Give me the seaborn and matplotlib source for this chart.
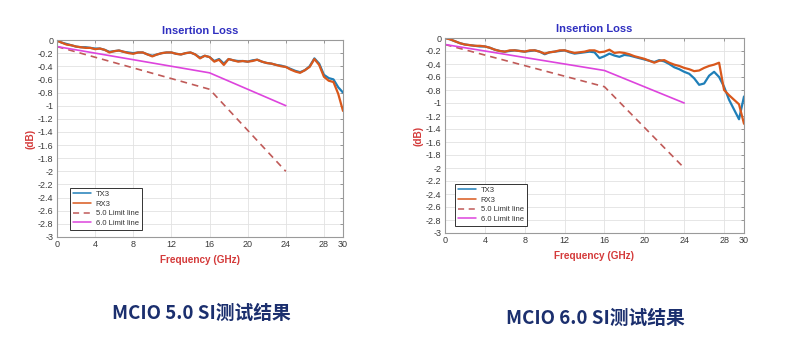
import matplotlib
matplotlib.use("Agg")
import matplotlib.pyplot as plt
import seaborn as sns
import numpy as np

# ---------------- data ----------------
freq = [i * 0.5 for i in range(61)]  # 0 .. 30 GHz

# MCIO 5.0
rx3_50 = [-0.01, -0.04, -0.07, -0.08, -0.10, -0.11, -0.12, -0.12, -0.14, -0.13,
          -0.15, -0.19, -0.17, -0.16, -0.18, -0.20, -0.21, -0.19, -0.19, -0.22,
          -0.25, -0.22, -0.20, -0.19, -0.19, -0.21, -0.22, -0.20, -0.19, -0.22,
          -0.28, -0.24, -0.26, -0.33, -0.30, -0.38, -0.29, -0.31, -0.33, -0.32,
          -0.33, -0.32, -0.30, -0.33, -0.35, -0.36, -0.38, -0.40, -0.41, -0.45,
          -0.48, -0.50, -0.46, -0.41, -0.29, -0.38, -0.56, -0.62, -0.64, -0.82,
          -1.08]
tx3_50 = [-0.01, -0.04, -0.06, -0.08, -0.10, -0.11, -0.11, -0.12, -0.13, -0.13,
          -0.15, -0.18, -0.17, -0.16, -0.18, -0.19, -0.20, -0.19, -0.19, -0.22,
          -0.24, -0.22, -0.20, -0.19, -0.19, -0.21, -0.22, -0.20, -0.19, -0.22,
          -0.27, -0.24, -0.26, -0.32, -0.29, -0.36, -0.29, -0.31, -0.32, -0.32,
          -0.33, -0.31, -0.30, -0.33, -0.35, -0.36, -0.38, -0.39, -0.41, -0.44,
          -0.47, -0.49, -0.46, -0.40, -0.28, -0.36, -0.53, -0.58, -0.60, -0.72,
          -0.80]

# MCIO 6.0
rx3_60 = [0.00, -0.02, -0.05, -0.08, -0.10, -0.11, -0.12, -0.12, -0.13, -0.15,
          -0.18, -0.20, -0.21, -0.19, -0.19, -0.20, -0.21, -0.19, -0.19, -0.21,
          -0.24, -0.22, -0.21, -0.19, -0.19, -0.21, -0.23, -0.22, -0.21, -0.19,
          -0.19, -0.22, -0.21, -0.18, -0.23, -0.22, -0.23, -0.25, -0.28, -0.30,
          -0.32, -0.35, -0.38, -0.35, -0.34, -0.38, -0.41, -0.43, -0.46, -0.48,
          -0.51, -0.50, -0.46, -0.43, -0.41, -0.38, -0.80, -0.88, -0.95, -1.02,
          -1.32]
tx3_60 = [0.00, -0.02, -0.05, -0.08, -0.10, -0.11, -0.12, -0.13, -0.13, -0.15,
          -0.18, -0.20, -0.21, -0.20, -0.19, -0.20, -0.21, -0.20, -0.19, -0.21,
          -0.25, -0.22, -0.21, -0.20, -0.19, -0.22, -0.24, -0.23, -0.22, -0.21,
          -0.22, -0.31, -0.28, -0.24, -0.27, -0.29, -0.26, -0.27, -0.29, -0.31,
          -0.33, -0.35, -0.37, -0.34, -0.36, -0.40, -0.45, -0.48, -0.52, -0.55,
          -0.62, -0.72, -0.70, -0.58, -0.52, -0.60, -0.75, -0.95, -1.10, -1.25,
          -0.90]

# limit lines
lim_freq = [0, 16, 24]
lim50 = [-0.10, -0.75, -2.00]
lim60 = [-0.10, -0.50, -1.00]

xticks = [0, 4, 8, 12, 16, 20, 24, 28, 30]
yticks = [round(-0.2 * i, 1) for i in range(16)]
ytick_labels = ["0", "-0.2", "-0.4", "-0.6", "-0.8", "-1", "-1.2", "-1.4", "-1.6",
                "-1.8", "-2", "-2.2", "-2.4", "-2.6", "-2.8", "-3"]

captions = ["MCIO 5.0 SI测试结果", "MCIO 6.0 SI测试结果"]

# ---------------- style ----------------
sns.set_theme(style="white")
plt.rcParams['font.family'] = ['Liberation Sans', 'DejaVu Sans']

C_TX = "#1f7fb8"
C_RX = "#d9581c"
C_L50 = "#c05a58"
C_L60 = "#dd44dd"

fig = plt.figure(figsize=(7.99, 3.57), dpi=100)
fig.patch.set_facecolor("white")

ax_rects = [
    [57 / 799, 1 - 237 / 357, 286 / 799, 197 / 357],
    [445 / 799, 1 - 233 / 357, 299 / 799, 195 / 357],
]
series = [(tx3_50, rx3_50), (tx3_60, rx3_60)]
leg_anchor = [(0.045, 0.036), (0.033, 0.036)]
cap_pos = [(201 / 799, 1 - 313 / 357), (595 / 799, 1 - 318 / 357)]

for k in range(2):
    ax = fig.add_axes(ax_rects[k])
    tx, rx = series[k]
    sns.lineplot(x=freq, y=tx, ax=ax, color=C_TX, linewidth=1.6, label="TX3")
    sns.lineplot(x=freq, y=rx, ax=ax, color=C_RX, linewidth=1.6, label="RX3")
    sns.lineplot(x=lim_freq, y=lim50, ax=ax, color=C_L50, linewidth=1.2,
                 linestyle=(0, (4, 3)), label="5.0 Limit line")
    sns.lineplot(x=lim_freq, y=lim60, ax=ax, color=C_L60, linewidth=1.2,
                 label="6.0 Limit line")

    ax.set_xlim(0, 30)
    ax.set_ylim(-3, 0)
    ax.set_xticks(xticks)
    ax.set_xticklabels([str(t) for t in xticks])
    ax.set_yticks(yticks)
    ax.set_yticklabels(ytick_labels)
    ax.tick_params(direction="in", length=2.5, width=0.6, colors="#888888",
                   labelcolor="#3a3a3a", labelsize=6.5, top=True, right=True,
                   pad=2.5)
    ax.grid(True, color="#e2e2e2", linewidth=0.6)
    ax.set_axisbelow(True)
    for s in ax.spines.values():
        s.set_color("#9a9a9a")
        s.set_linewidth(0.8)
        s.set_visible(True)

    ax.set_title("Insertion Loss", color="#2f2fc0", fontweight="bold",
                 fontsize=8, pad=4)
    ax.set_xlabel("Frequency (GHz)", color="#d43a3a", fontweight="bold",
                  fontsize=7.2, labelpad=4)
    ax.set_ylabel("(dB)", color="#d43a3a", fontweight="bold", fontsize=7.2,
                  labelpad=2)

    leg = ax.legend(loc="lower left", bbox_to_anchor=leg_anchor[k],
                    fontsize=5.5, frameon=True, fancybox=False,
                    edgecolor="#333333", framealpha=1, borderpad=0.4,
                    labelspacing=0.3, handlelength=2.4, handletextpad=0.6,
                    borderaxespad=0)
    leg.get_frame().set_linewidth(0.7)
    for line in leg.get_lines():
        line.set_linewidth(1.1)
    for t in leg.get_texts():
        t.set_color("#333333")

    fig.text(cap_pos[k][0], cap_pos[k][1], captions[k], ha="center",
             va="center", fontsize=13.5, fontweight="bold", color="#1b2f6e",
             family=["Noto Sans CJK SC", "DejaVu Sans"])

fig.savefig("out.png", dpi=100, facecolor="white")
